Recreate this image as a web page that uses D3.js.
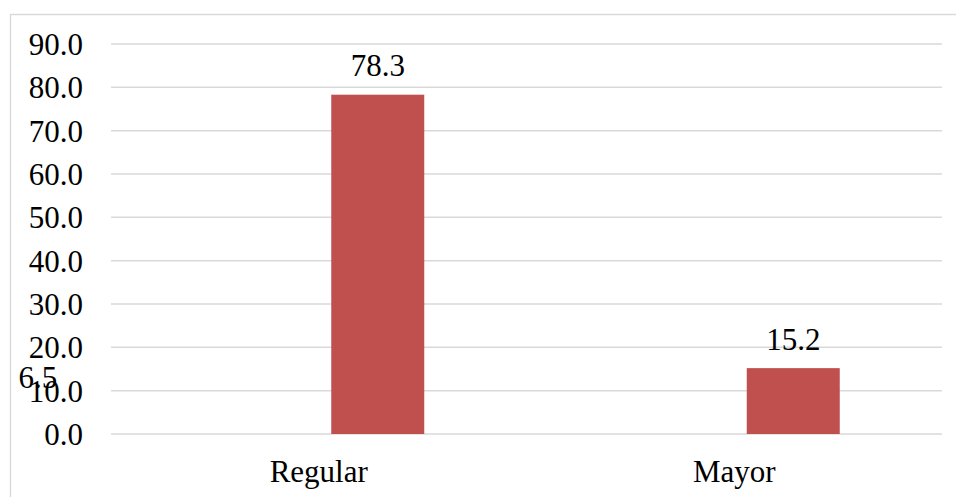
<!DOCTYPE html>
<html><head><meta charset="utf-8">
<script src="https://cdn.jsdelivr.net/npm/d3@7/dist/d3.min.js"></script>
<style>html,body{margin:0;padding:0;background:#fff;overflow:hidden}
svg text{font-family:"Liberation Serif","Times New Roman",serif;font-size:31px;fill:#000}</style>
</head><body>
<script>
const categories = ["Regular", "Mayor"];
const values = [78.3, 15.2];
const strayLabelValue = 6.5;
const yTicks = [0, 10, 20, 30, 40, 50, 60, 70, 80, 90];

(function () {
const W = 956, H = 497;
const svg = d3.select("body").append("svg").attr("width", W).attr("height", H);

// outer chart border (cropped)
svg.append("path").attr("d", `M10.5,${H+2}V14.5H${W+2}`)
  .attr("fill","none").attr("stroke","#d9d9d9").attr("stroke-width",1.3);

const pLeft = 111, pRight = 942, pTop = 44, pBottom = 434;
const y = d3.scaleLinear().domain([0, 90]).range([pBottom, pTop]);
const x = d3.scaleBand().domain(categories).range([pLeft, pRight]);
const barW = 93, barShift = 59;

svg.append("g").selectAll("line").data(yTicks).join("line")
  .attr("x1", pLeft).attr("x2", pRight)
  .attr("y1", d => y(d)).attr("y2", d => y(d))
  .attr("stroke", "#d9d9d9").attr("stroke-width", 1.5);

svg.append("g").selectAll("text").data(yTicks).join("text")
  .attr("x", 83).attr("y", d => y(d)).attr("dy", "0.35em")
  .attr("text-anchor", "end").text(d => d.toFixed(1));

const cx = c => x(c) + x.bandwidth() / 2;

svg.append("g").selectAll("rect").data(categories).join("rect")
  .attr("x", (c) => cx(c) + barShift - barW / 2)
  .attr("width", barW)
  .attr("y", (c, i) => y(values[i]))
  .attr("height", (c, i) => y(0) - y(values[i]))
  .attr("fill", "#c0504d");

svg.append("g").selectAll("text").data(categories).join("text")
  .attr("x", c => cx(c) + barShift)
  .attr("y", (c, i) => y(values[i]) - 18.5)
  .attr("text-anchor", "middle").text((c, i) => values[i].toFixed(1));

// stray data label whose bar lies outside the plot area
svg.append("text")
  .attr("x", cx(categories[0]) - 281)
  .attr("y", y(strayLabelValue) - 18)
  .attr("text-anchor", "middle").text(strayLabelValue.toFixed(1));

svg.append("g").selectAll("text").data(categories).join("text")
  .attr("x", c => cx(c)).attr("y", 482)
  .attr("text-anchor", "middle").text(c => c);
})();
</script>
</body></html>
